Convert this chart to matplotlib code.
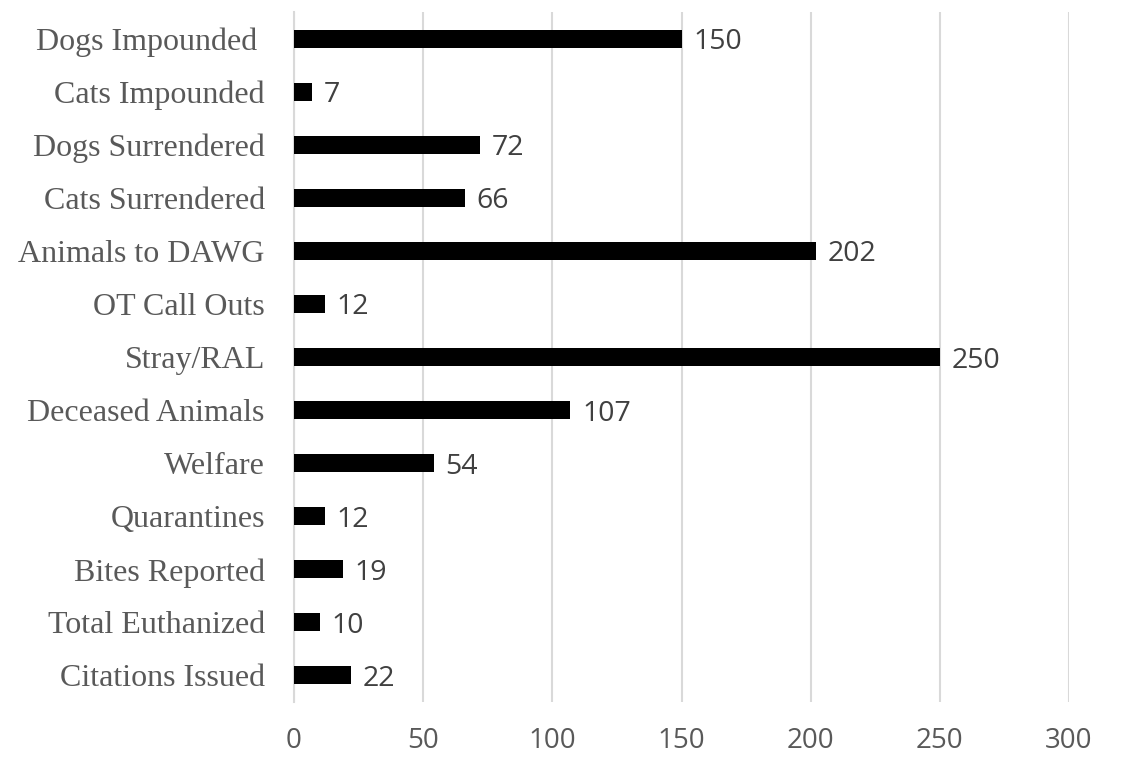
import matplotlib.pyplot as plt

# Datos del gráfico
categories = ['Dogs Impounded ', 'Cats Impounded', 'Dogs Surrendered', 'Cats Surrendered',
              'Animals to DAWG', 'OT Call Outs', 'Stray/RAL', 'Deceased Animals', 'Welfare',
              'Quarantines', 'Bites Reported', 'Total Euthanized', 'Citations Issued']
values = [150, 7, 72, 66, 202, 12, 250, 107, 54, 12, 19, 10, 22]
x_ticks = [0, 50, 100, 150, 200, 250, 300]

fig = plt.figure(figsize=(11.24, 7.58), dpi=100)
ax = fig.add_axes([0.2616, 0.074, 0.6895, 0.910])

pos = list(range(len(categories)))
ax.barh(pos, values, height=0.34, color='black', zorder=3)

for p, v in zip(pos, values):
    ax.text(v + 4.5, p, str(v), va='center_baseline', ha='left', fontsize=20.5,
            family='Open Sans', color='#404040')

ax.set_ylim(len(categories) - 0.5, -0.5)
ax.set_xlim(0, 300)
ax.set_yticks(pos)
ax.set_yticklabels(categories, family='Liberation Serif', fontsize=23, color='#595959')
ax.set_xticks(x_ticks)
ax.set_xticklabels([str(t) for t in x_ticks], family='Open Sans', fontsize=20, color='#595959')

ax.xaxis.grid(True, color='#d9d9d9', linewidth=1.5, zorder=0)
ax.tick_params(axis='both', length=0)
ax.tick_params(axis='y', pad=21)
ax.tick_params(axis='x', pad=18)
for s in ['top', 'right', 'bottom']:
    ax.spines[s].set_visible(False)
ax.spines['left'].set_color('#d9d9d9')
ax.spines['left'].set_linewidth(1.5)

plt.savefig('out.png')
